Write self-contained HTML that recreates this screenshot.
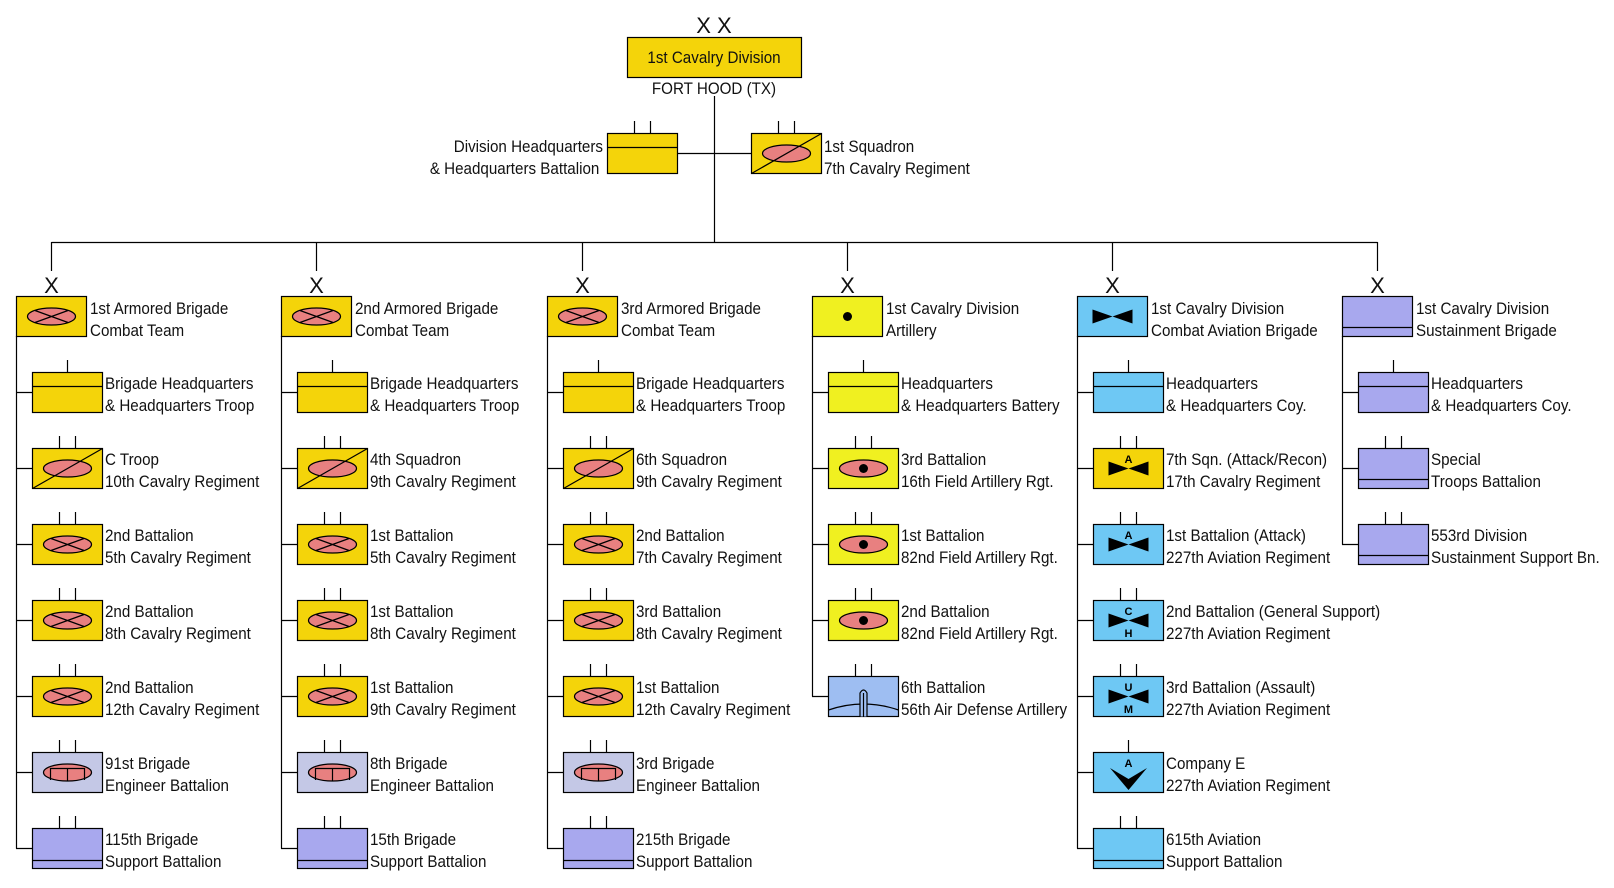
<!DOCTYPE html>
<html><head><meta charset="utf-8"><style>
html,body{margin:0;padding:0;background:#fff;}
svg{display:block;}
text{font-family:"Liberation Sans",Arial,sans-serif;font-size:16.5px;fill:#111;}
.l{font-size:11px;font-weight:bold;fill:#000;}
.bx{font-size:22px;}
</style></head><body>
<svg width="1614" height="888" viewBox="0 0 1614 888" xmlns="http://www.w3.org/2000/svg">
<defs>
<g id="tt" stroke="#000" stroke-width="1.2"><line x1="27.5" y1="-12" x2="27.5" y2="0"/><line x1="43.5" y1="-12" x2="43.5" y2="0"/></g>
<g id="t1" stroke="#000" stroke-width="1.2"><line x1="35.5" y1="-12" x2="35.5" y2="0"/></g>
<rect id="ry" x="0.5" y="0.5" width="70" height="40" fill="#f4d40a" stroke="#000" stroke-width="1.2"/>
<g id="armor"><use href="#ry"/><ellipse cx="35.5" cy="20.5" rx="24" ry="8.5" fill="#e88080" stroke="#000" stroke-width="1.2"/><path d="M19 14.5L52 26.5M19 26.5L52 14.5" stroke="#000" stroke-width="1.2"/></g>
<g id="recon"><use href="#ry"/><ellipse cx="35.5" cy="20.5" rx="24" ry="8.5" fill="#e88080" stroke="#000" stroke-width="1.2"/><path d="M0.5 40.5L70.5 0.5" stroke="#000" stroke-width="1.2"/></g>
<g id="hqy"><use href="#ry"/><path d="M0.5 14.5H70.5" stroke="#000" stroke-width="1.2"/></g>
<g id="eng"><rect x="0.5" y="0.5" width="70" height="40" fill="#c4c8e6" stroke="#000" stroke-width="1.2"/><ellipse cx="35.5" cy="20.5" rx="24" ry="8.5" fill="#e88080" stroke="#000" stroke-width="1.2"/><path d="M18.5 28V16.5H52.5V28M35.5 16.5V29" fill="none" stroke="#000" stroke-width="1.2"/></g>
<g id="sup"><rect x="0.5" y="0.5" width="70" height="40" fill="#a8a8ee" stroke="#000" stroke-width="1.2"/><path d="M0.5 32.5H70.5" stroke="#000" stroke-width="1.2"/></g>
<rect id="ra" x="0.5" y="0.5" width="70" height="40" fill="#f0f020" stroke="#000" stroke-width="1.2"/>
<g id="artb"><use href="#ra"/><circle cx="35.5" cy="20.5" r="4.5" fill="#000"/></g>
<g id="hqa"><use href="#ra"/><path d="M0.5 14.5H70.5" stroke="#000" stroke-width="1.2"/></g>
<g id="fa"><use href="#ra"/><ellipse cx="35.5" cy="20.5" rx="24" ry="8.5" fill="#e88080" stroke="#000" stroke-width="1.2"/><circle cx="35.5" cy="20.5" r="4.5" fill="#000"/></g>
<g id="ada"><rect x="0.5" y="0.5" width="70" height="40" fill="#9ebef2" stroke="#000" stroke-width="1.2"/><path d="M0.5 34Q35.5 22 70.5 34" fill="none" stroke="#000" stroke-width="1.2"/><path d="M32 40.5V17Q35.5 11 39 17V40.5" fill="#9ebef2" stroke="#000" stroke-width="1.2"/><path d="M35.5 17V40.5" stroke="#000" stroke-width="1.2"/></g>
<rect id="rb" x="0.5" y="0.5" width="70" height="40" fill="#6ec8f4" stroke="#000" stroke-width="1.2"/>
<path id="bow" d="M15.5 13.5L35.5 20.5L55.5 13.5V27.5L35.5 20.5L15.5 27.5Z" fill="#000"/>
<g id="avb"><use href="#rb"/><use href="#bow"/></g>
<g id="hqb"><use href="#rb"/><path d="M0.5 14.5H70.5" stroke="#000" stroke-width="1.2"/></g>
<g id="supb"><use href="#rb"/><path d="M0.5 32.5H70.5" stroke="#000" stroke-width="1.2"/></g>
<g id="hql"><rect x="0.5" y="0.5" width="70" height="40" fill="#a8a8ee" stroke="#000" stroke-width="1.2"/><path d="M0.5 14.5H70.5" stroke="#000" stroke-width="1.2"/></g>
<g id="supl"><rect x="0.5" y="0.5" width="70" height="40" fill="#a8a8ee" stroke="#000" stroke-width="1.2"/><path d="M0.5 31.5H70.5" stroke="#000" stroke-width="1.2"/></g>
</defs>

<g stroke="#000" stroke-width="1.2" fill="none">
<path d="M714.5 96V242.5M51.5 242.5H1377.5M678 153.5H751"/>
<path d="M51.5 242V271M316.5 242V271M582.5 242V271M847.5 242V271M1112.5 242V271M1377.5 242V271"/>
<path d="M16.5 336V848.5M281.5 336V848.5M547.5 336V848.5M812.5 336V696.5M1077.5 336V848.5M1342.5 336V544.5"/>
<path d="M16 392.5h16M16 468.5h16M16 544.5h16M16 620.5h16M16 696.5h16M16 772.5h16M16 848.5h16"/>
<path d="M281 392.5h16M281 468.5h16M281 544.5h16M281 620.5h16M281 696.5h16M281 772.5h16M281 848.5h16"/>
<path d="M547 392.5h16M547 468.5h16M547 544.5h16M547 620.5h16M547 696.5h16M547 772.5h16M547 848.5h16"/>
<path d="M812 392.5h16M812 468.5h16M812 544.5h16M812 620.5h16M812 696.5h16"/>
<path d="M1077 392.5h16M1077 468.5h16M1077 544.5h16M1077 620.5h16M1077 696.5h16M1077 772.5h16M1077 848.5h16"/>
<path d="M1342 392.5h16M1342 468.5h16M1342 544.5h16"/>
</g>

<text x="714" y="33" text-anchor="middle" class="bx">X X</text>
<rect x="627.5" y="37.5" width="174" height="40" fill="#f4d40a" stroke="#000" stroke-width="1.2"/>
<g transform="translate(714,0) scale(.92,1)"><text x="0" y="63" text-anchor="middle">1st Cavalry Division</text><text x="0" y="94" text-anchor="middle">FORT HOOD (TX)</text></g>
<use href="#hqy" x="607" y="133"/><use href="#tt" x="607" y="133"/>
<g transform="translate(603,0) scale(.92,1)"><text x="0" y="152" text-anchor="end">Division Headquarters</text><text x="-4" y="174" text-anchor="end">&amp; Headquarters Battalion</text></g>
<use href="#recon" x="751" y="133"/><use href="#tt" x="751" y="133"/>
<g transform="translate(824,0) scale(.92,1)"><text x="0" y="152">1st Squadron</text><text x="0" y="174">7th Cavalry Regiment</text></g>

<g text-anchor="middle">
<text class="bx" x="51.5" y="293">X</text><text class="bx" x="316.5" y="293">X</text><text class="bx" x="582.5" y="293">X</text><text class="bx" x="847.5" y="293">X</text><text class="bx" x="1112.5" y="293">X</text><text class="bx" x="1377.5" y="293">X</text>
</g>

<use href="#armor" x="16" y="296"/>
<g transform="translate(90,0) scale(.92,1)"><text y="314">1st Armored Brigade</text><text y="336">Combat Team</text></g>
<use href="#hqy" x="32" y="372"/><use href="#t1" x="32" y="372"/>
<use href="#recon" x="32" y="448"/><use href="#tt" x="32" y="448"/>
<use href="#armor" x="32" y="524"/><use href="#tt" x="32" y="524"/>
<use href="#armor" x="32" y="600"/><use href="#tt" x="32" y="600"/>
<use href="#armor" x="32" y="676"/><use href="#tt" x="32" y="676"/>
<use href="#eng" x="32" y="752"/><use href="#tt" x="32" y="752"/>
<use href="#sup" x="32" y="828"/><use href="#tt" x="32" y="828"/>
<g transform="translate(105,0) scale(.92,1)">
<text y="389">Brigade Headquarters</text><text y="411">&amp; Headquarters Troop</text>
<text y="465">C Troop</text><text y="487">10th Cavalry Regiment</text>
<text y="541">2nd Battalion</text><text y="563">5th Cavalry Regiment</text>
<text y="617">2nd Battalion</text><text y="639">8th Cavalry Regiment</text>
<text y="693">2nd Battalion</text><text y="715">12th Cavalry Regiment</text>
<text y="769">91st Brigade</text><text y="791">Engineer Battalion</text>
<text y="845">115th Brigade</text><text y="867">Support Battalion</text>
</g>

<use href="#armor" x="281" y="296"/>
<g transform="translate(355,0) scale(.92,1)"><text y="314">2nd Armored Brigade</text><text y="336">Combat Team</text></g>
<use href="#hqy" x="297" y="372"/><use href="#t1" x="297" y="372"/>
<use href="#recon" x="297" y="448"/><use href="#tt" x="297" y="448"/>
<use href="#armor" x="297" y="524"/><use href="#tt" x="297" y="524"/>
<use href="#armor" x="297" y="600"/><use href="#tt" x="297" y="600"/>
<use href="#armor" x="297" y="676"/><use href="#tt" x="297" y="676"/>
<use href="#eng" x="297" y="752"/><use href="#tt" x="297" y="752"/>
<use href="#sup" x="297" y="828"/><use href="#tt" x="297" y="828"/>
<g transform="translate(370,0) scale(.92,1)">
<text y="389">Brigade Headquarters</text><text y="411">&amp; Headquarters Troop</text>
<text y="465">4th Squadron</text><text y="487">9th Cavalry Regiment</text>
<text y="541">1st Battalion</text><text y="563">5th Cavalry Regiment</text>
<text y="617">1st Battalion</text><text y="639">8th Cavalry Regiment</text>
<text y="693">1st Battalion</text><text y="715">9th Cavalry Regiment</text>
<text y="769">8th Brigade</text><text y="791">Engineer Battalion</text>
<text y="845">15th Brigade</text><text y="867">Support Battalion</text>
</g>

<use href="#armor" x="547" y="296"/>
<g transform="translate(621,0) scale(.92,1)"><text y="314">3rd Armored Brigade</text><text y="336">Combat Team</text></g>
<use href="#hqy" x="563" y="372"/><use href="#t1" x="563" y="372"/>
<use href="#recon" x="563" y="448"/><use href="#tt" x="563" y="448"/>
<use href="#armor" x="563" y="524"/><use href="#tt" x="563" y="524"/>
<use href="#armor" x="563" y="600"/><use href="#tt" x="563" y="600"/>
<use href="#armor" x="563" y="676"/><use href="#tt" x="563" y="676"/>
<use href="#eng" x="563" y="752"/><use href="#tt" x="563" y="752"/>
<use href="#sup" x="563" y="828"/><use href="#tt" x="563" y="828"/>
<g transform="translate(636,0) scale(.92,1)">
<text y="389">Brigade Headquarters</text><text y="411">&amp; Headquarters Troop</text>
<text y="465">6th Squadron</text><text y="487">9th Cavalry Regiment</text>
<text y="541">2nd Battalion</text><text y="563">7th Cavalry Regiment</text>
<text y="617">3rd Battalion</text><text y="639">8th Cavalry Regiment</text>
<text y="693">1st Battalion</text><text y="715">12th Cavalry Regiment</text>
<text y="769">3rd Brigade</text><text y="791">Engineer Battalion</text>
<text y="845">215th Brigade</text><text y="867">Support Battalion</text>
</g>

<use href="#artb" x="812" y="296"/>
<g transform="translate(886,0) scale(.92,1)"><text y="314">1st Cavalry Division</text><text y="336">Artillery</text></g>
<use href="#hqa" x="828" y="372"/><use href="#t1" x="828" y="372"/>
<use href="#fa" x="828" y="448"/><use href="#tt" x="828" y="448"/>
<use href="#fa" x="828" y="524"/><use href="#tt" x="828" y="524"/>
<use href="#fa" x="828" y="600"/><use href="#tt" x="828" y="600"/>
<use href="#ada" x="828" y="676"/><use href="#tt" x="828" y="676"/>
<g transform="translate(901,0) scale(.92,1)">
<text y="389">Headquarters</text><text y="411">&amp; Headquarters Battery</text>
<text y="465">3rd Battalion</text><text y="487">16th Field Artillery Rgt.</text>
<text y="541">1st Battalion</text><text y="563">82nd Field Artillery Rgt.</text>
<text y="617">2nd Battalion</text><text y="639">82nd Field Artillery Rgt.</text>
<text y="693">6th Battalion</text><text y="715">56th Air Defense Artillery</text>
</g>

<use href="#avb" x="1077" y="296"/>
<g transform="translate(1151,0) scale(.92,1)"><text y="314">1st Cavalry Division</text><text y="336">Combat Aviation Brigade</text></g>
<use href="#hqb" x="1093" y="372"/><use href="#t1" x="1093" y="372"/>
<use href="#ry" x="1093" y="448"/><use href="#bow" x="1093" y="448"/><use href="#tt" x="1093" y="448"/>
<use href="#rb" x="1093" y="524"/><use href="#bow" x="1093" y="524"/><use href="#tt" x="1093" y="524"/>
<use href="#rb" x="1093" y="600"/><use href="#bow" x="1093" y="600"/><use href="#tt" x="1093" y="600"/>
<use href="#rb" x="1093" y="676"/><use href="#bow" x="1093" y="676"/><use href="#tt" x="1093" y="676"/>
<use href="#rb" x="1093" y="752"/><use href="#t1" x="1093" y="752"/>
<path d="M1110 768L1128.5 779L1147 768L1128.5 790Z" fill="#000"/>
<use href="#supb" x="1093" y="828"/><use href="#tt" x="1093" y="828"/>
<g text-anchor="middle">
<text class="l" x="1128.5" y="463">A</text>
<text class="l" x="1128.5" y="539">A</text>
<text class="l" x="1128.5" y="615">C</text><text class="l" x="1128.5" y="637">H</text>
<text class="l" x="1128.5" y="691">U</text><text class="l" x="1128.5" y="713">M</text>
<text class="l" x="1128.5" y="767">A</text>
</g>
<g transform="translate(1166,0) scale(.92,1)">
<text y="389">Headquarters</text><text y="411">&amp; Headquarters Coy.</text>
<text y="465">7th Sqn. (Attack/Recon)</text><text y="487">17th Cavalry Regiment</text>
<text y="541">1st Battalion (Attack)</text><text y="563">227th Aviation Regiment</text>
<text y="617">2nd Battalion (General Support)</text><text y="639">227th Aviation Regiment</text>
<text y="693">3rd Battalion (Assault)</text><text y="715">227th Aviation Regiment</text>
<text y="769">Company E</text><text y="791">227th Aviation Regiment</text>
<text y="845">615th Aviation</text><text y="867">Support Battalion</text>
</g>

<use href="#supl" x="1342" y="296"/>
<g transform="translate(1416,0) scale(.92,1)"><text y="314">1st Cavalry Division</text><text y="336">Sustainment Brigade</text></g>
<use href="#hql" x="1358" y="372"/><use href="#t1" x="1358" y="372"/>
<use href="#supl" x="1358" y="448"/><use href="#tt" x="1358" y="448"/>
<use href="#supl" x="1358" y="524"/><use href="#tt" x="1358" y="524"/>
<g transform="translate(1431,0) scale(.92,1)">
<text y="389">Headquarters</text><text y="411">&amp; Headquarters Coy.</text>
<text y="465">Special</text><text y="487">Troops Battalion</text>
<text y="541">553rd Division</text><text y="563">Sustainment Support Bn.</text>
</g>
</svg>
</body></html>
